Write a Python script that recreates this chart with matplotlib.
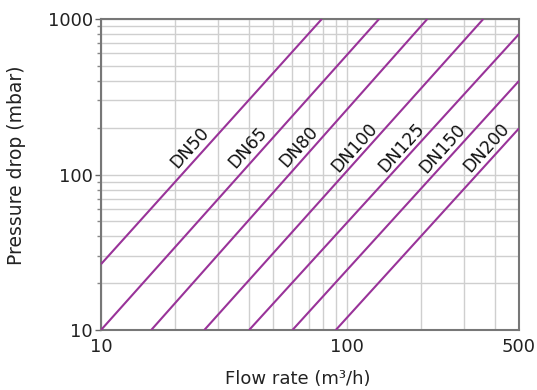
import numpy as np
import matplotlib
matplotlib.use("Agg")
import matplotlib.pyplot as plt
from matplotlib.ticker import FixedLocator, NullFormatter, FixedFormatter

# nominal sizes and line end points (flow m3/h, pressure mbar)
sizes = ["DN50", "DN65", "DN80", "DN100", "DN125", "DN150", "DN200"]
q_start = [10, 10, 16, 26.3, 40, 60, 90]
dp_start = [26.5, 10, 10, 10, 10, 10, 10]
q_end = [79, 135, 212, 358, 500, 500, 500]
dp_end = [1000, 1000, 1000, 1000, 800, 400, 198]

# label anchor points
label_q = [23, 39.6, 63.4, 107, 166, 244, 369]
label_dp = [148, 150, 152, 148, 148, 146, 148]

x_ticks = [10, 100, 500]
y_ticks = [10, 100, 1000]

line_color = "#993399"

fig = plt.figure(figsize=(5.37, 3.90), dpi=100)
ax = fig.add_axes([101 / 537, 60 / 390, 418 / 537, 311 / 390])

for i in range(len(sizes)):
    ax.plot([q_start[i], q_end[i]], [dp_start[i], dp_end[i]], color=line_color, lw=1.5,
            solid_capstyle="butt", zorder=3)
    ax.text(label_q[i], label_dp[i], sizes[i], rotation=48, ha="center", va="center",
            fontsize=12.5, family="DejaVu Sans", color="#111111", rotation_mode="anchor", zorder=4)

ax.set_xscale("log")
ax.set_yscale("log")
ax.set_xlim(10, 500)
ax.set_ylim(10, 1000)

ax.xaxis.set_major_locator(FixedLocator(x_ticks))
ax.xaxis.set_major_formatter(FixedFormatter([str(v) for v in x_ticks]))
ax.yaxis.set_major_locator(FixedLocator(y_ticks))
ax.yaxis.set_major_formatter(FixedFormatter([str(v) for v in y_ticks]))
ax.xaxis.set_minor_formatter(NullFormatter())
ax.yaxis.set_minor_formatter(NullFormatter())

ax.grid(True, which="both", color="#cfcfcf", lw=1.0, zorder=0)
ax.set_axisbelow(True)

ax.tick_params(axis="x", which="both", length=0, labelsize=13, pad=6, colors="#222222")
ax.tick_params(axis="y", which="major", length=4, width=1, color="#666666", labelsize=13,
               pad=2, labelcolor="#222222")
ax.tick_params(axis="y", which="minor", length=3, width=1, color="#888888")
for t in ax.get_xticklabels() + ax.get_yticklabels():
    t.set_family("DejaVu Sans")

for s in ax.spines.values():
    s.set_color("#777777")
    s.set_linewidth(1.5)

ax.set_xlabel("Flow rate (m³/h)", fontsize=13, family="DejaVu Sans", color="#222222")
ax.set_ylabel("Pressure drop (mbar)", fontsize=13.5, family="DejaVu Sans", color="#222222")
ax.xaxis.set_label_coords(0.471, -0.128)
ax.yaxis.set_label_coords(-0.18, 0.53)

fig.savefig("out.png", dpi=100)
